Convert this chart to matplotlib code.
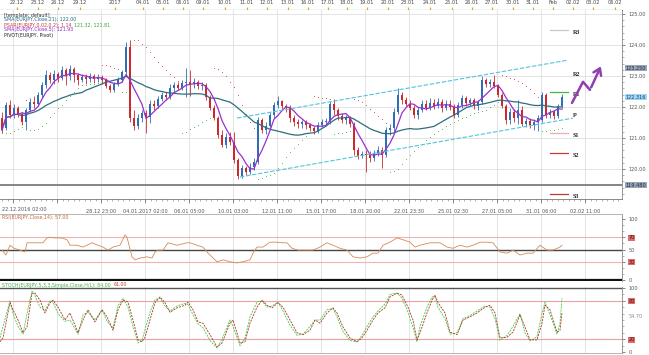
import numpy as np
import pandas as pd
import matplotlib
matplotlib.use('Agg')
import matplotlib.pyplot as plt
from matplotlib.ticker import MultipleLocator
from matplotlib.transforms import blended_transform_factory

# ---------------- data (EURJPY, candle index 0..140) ----------------
opens = [121.64,121.32,122.06,121.74,121.97,121.77,121.51,121.90,122.16,122.10,
         122.39,122.71,123.03,122.87,123.06,122.93,123.19,123.00,123.22,123.03,
         122.87,122.97,122.90,123.00,122.90,122.97,122.87,122.68,122.55,122.74,
         122.87,123.13,123.93,121.64,121.39,121.64,121.81,121.68,122.10,122.03,
         122.26,122.39,122.32,122.61,122.71,122.61,122.77,122.81,122.74,122.81,
         122.68,122.71,122.32,121.97,121.64,121.10,120.77,121.03,120.87,120.29,
         119.77,120.03,119.90,120.06,120.22,121.58,121.26,121.39,121.74,122.06,
         122.19,122.03,121.97,121.64,121.51,121.45,121.51,121.42,121.32,121.22,
         121.42,121.51,121.55,122.10,121.90,121.71,121.58,121.64,121.45,120.61,
         120.42,120.48,120.45,120.35,120.51,120.61,120.45,121.26,121.32,121.84,
         122.39,122.22,122.10,121.97,121.74,121.90,122.10,121.97,122.13,122.03,
         122.16,121.97,122.10,122.00,121.74,122.06,122.29,122.13,122.22,122.03,
         122.16,122.87,122.74,122.81,122.68,122.39,122.03,121.58,121.84,121.64,
         121.90,121.45,121.55,121.42,121.51,121.58,122.39,121.74,121.84,121.71,122.03]
highs = [121.84,122.16,122.22,122.10,122.03,121.84,121.97,122.29,122.35,122.48,
         122.81,123.19,123.13,123.19,123.13,123.32,123.26,123.35,123.29,123.10,
         123.06,123.06,123.10,123.06,123.06,123.03,122.93,122.74,122.81,122.97,
         123.19,124.10,124.16,121.90,121.77,121.90,121.90,122.22,122.22,122.35,
         122.48,122.48,122.74,122.81,122.81,122.87,123.26,123.19,122.93,122.87,
         122.81,122.77,122.39,122.06,121.71,121.26,121.16,121.19,121.19,120.35,
         120.13,120.10,120.19,120.35,121.68,121.64,121.51,121.84,122.16,122.35,
         122.22,122.10,122.06,121.74,121.61,121.58,121.58,121.48,121.39,121.51,
         121.61,121.64,122.19,122.26,121.97,121.81,121.74,121.71,121.51,120.71,
         120.58,120.61,120.58,120.61,120.74,120.71,121.35,121.45,121.97,122.61,
         122.48,122.32,122.22,122.06,122.00,122.22,122.22,122.29,122.26,122.29,
         122.26,122.22,122.22,122.10,122.16,122.39,122.35,122.29,122.29,122.22,
         123.00,122.93,122.90,123.03,122.74,122.45,122.10,121.97,121.93,122.22,
         122.03,121.64,121.64,121.61,121.74,122.48,122.45,121.93,121.90,122.10,122.42]
lows = [121.16,121.26,121.64,121.64,121.68,121.42,121.26,121.84,121.97,122.03,
        122.29,122.61,122.77,122.74,122.81,122.87,122.71,122.87,122.81,122.71,
        122.81,122.74,122.81,122.77,122.81,122.74,122.61,122.48,122.48,122.68,
        122.81,123.03,121.51,121.26,121.29,121.51,121.16,121.48,121.90,121.97,
        122.19,122.22,122.26,122.48,122.55,122.55,122.32,122.35,122.61,122.58,
        122.55,122.22,121.90,121.58,121.00,120.71,120.68,120.77,120.19,119.68,
        119.71,119.81,119.84,119.97,120.16,121.16,121.13,121.32,121.64,121.97,
        121.93,121.84,121.51,121.39,121.32,121.32,121.29,121.22,121.13,121.16,
        121.35,121.42,121.45,121.74,121.58,121.48,121.45,121.35,120.45,120.32,
        120.35,119.90,120.22,120.26,120.42,120.03,120.39,121.10,121.19,121.77,
        122.10,122.03,121.90,121.64,121.61,121.84,121.90,121.90,121.93,121.97,
        121.84,121.90,121.90,121.64,121.68,121.97,122.03,122.03,121.93,121.90,
        122.10,122.64,122.64,122.61,122.32,121.97,121.45,121.45,121.51,121.45,
        121.39,121.35,121.32,121.26,121.22,121.51,121.64,121.64,121.61,121.64,121.97]
closes = [121.26,122.06,121.74,121.97,121.77,121.51,121.90,122.16,122.10,122.39,
          122.71,123.03,122.87,123.06,122.93,123.19,123.00,123.22,123.03,122.87,
          122.97,122.90,123.00,122.90,122.97,122.87,122.68,122.55,122.74,122.87,
          123.13,123.93,121.64,121.39,121.64,121.81,121.68,122.10,122.03,122.26,
          122.39,122.32,122.61,122.71,122.61,122.77,122.81,122.74,122.81,122.68,
          122.71,122.32,121.97,121.64,121.10,120.77,121.03,120.87,120.29,119.77,
          120.03,119.90,120.06,120.22,121.58,121.26,121.39,121.74,122.06,122.19,
          122.03,121.97,121.64,121.51,121.45,121.51,121.42,121.32,121.22,121.42,
          121.51,121.55,122.10,121.90,121.71,121.58,121.64,121.45,120.61,120.42,
          120.48,120.45,120.35,120.51,120.61,120.45,121.26,121.32,121.84,122.39,
          122.22,122.10,121.97,121.74,121.90,122.10,121.97,122.13,122.03,122.16,
          121.97,122.10,122.00,121.74,122.06,122.29,122.13,122.22,122.03,122.16,
          122.87,122.74,122.81,122.68,122.39,122.03,121.58,121.84,121.64,121.90,
          121.45,121.55,121.42,121.51,121.64,122.39,121.74,121.84,121.71,122.03,122.32]

# pivot levels
pivot_names = ['R3', 'R2', 'R1', 'P', 'S1', 'S2', 'S3']
pivot_values = [124.48, 123.13, 122.48, 121.81, 121.16, 120.51, 119.19]
pivot_colors = ['#c8c8c8', None, '#3dbb3d', None, '#eab0b0', '#c43c3c', '#b83a3a']

# trend channel end points (candle index, price)
channel_upper = [(58.75, 121.64), (141.5, 123.51)]
channel_lower = [(59.5, 119.74), (142.75, 121.64)]
hline_level = 119.48
marker_level = 123.25
last_price = 122.316

# RSI (candle index, value)
rsi_t = [0,1,2,3,4.5,5.75,6.25,7.75,10.25,11.25,12,13.25,15,16.25,17,18.75,20.25,22.5,24,25.25,
         26.5,27.75,29.5,30.75,31.25,32.5,33.25,34.5,36.25,37.5,38.25,39,40.25,41.5,43.75,46.25,47,48.75,50.25,51.5,
         53.75,55.25,57,58.75,60.25,62,62.75,63.75,65.25,67,68.75,70,71.25,72.5,74,76.25,77.75,79.5,81.25,82.75,
         84.5,86.25,87.75,89.5,91.25,92.75,94,95.25,97,98.75,100.25,102,103.25,104.5,107,109.5,111.25,112.75,114.5,116.25,
         117.75,119.5,121.25,122.75,124.5,126.25,127.75,129.5,131.25,132.75,134.5,136.25,137.75,139.5,140]
rsi_v = [49,41,57,52,49,46,61,61,61,69,70,69,69,66,57,57,54,61,57,54,
         49,54,57,74,70,38,33,36,38,36,46,49,49,61,57,61,61,57,54,44,
         30,33,30,28,30,33,44,54,54,62,62,61,61,52,49,49,49,54,61,57,
         52,49,38,36,38,44,44,57,62,69,66,62,54,57,61,61,54,52,57,54,
         57,62,62,61,46,44,49,41,44,44,57,49,49,54,57]

# Stochastic (candle index, %K, %D)
st_t = [-0.5,0.25,2,2.75,4,5.25,6.25,7.5,8.25,9.5,10.75,12,12.75,14,15.75,17,19,20.25,21.5,23.25,
        25,26.25,27.75,29,30.25,31.5,32.75,34,35,35.75,37,38.25,39.5,40.75,42,43.75,45.75,46.5,47.75,49,
        50.25,52,53.75,55,57,57.75,59.5,60.75,62,63.75,65,66.25,67.5,69,70.25,72,73.75,75.25,77,78.25,
        79.5,81.25,82.75,83.75,85.25,87,88.75,90,91.25,92.75,94,95.75,97,98.75,100,101.5,102.75,103.75,104.5,106.25,
        107.5,108.25,109,110.75,112,113.75,115.25,117,118.75,120.75,122,123.25,124.5,126.25,127.75,129.5,130.75,132,133.75,135,
        135.75,137,138.75,139.5,140]
st_d = [16,22,77,66,50,30,39,92,92,81,61,77,81,70,50,61,30,50,66,47,
        66,55,34,66,81,78,50,19,16,23,50,77,86,77,62,69,73,78,66,47,
        45,27,8,14,45,50,14,16,45,70,81,73,69,77,70,50,30,27,34,50,
        45,61,69,61,39,22,16,22,34,50,61,69,86,92,89,70,50,19,30,61,
        81,89,77,61,31,27,50,55,61,70,73,61,22,23,31,58,39,19,19,45,
        73,66,31,34,61]
st_k = [22,40,80,60,40,28,60,95,88,70,65,80,78,60,48,50,28,58,62,50,
        66,48,38,72,84,70,40,14,18,35,62,82,84,72,64,72,76,74,58,44,
        38,18,6,20,50,40,10,22,55,78,80,70,72,78,64,42,26,28,40,50,
        50,66,68,55,32,18,16,26,40,55,64,75,90,92,84,62,38,16,40,70,
        86,86,70,52,28,30,52,57,64,72,70,52,18,26,40,60,30,17,24,60,
        78,58,28,45,84]

# time axis labels
bottom_tick_pos = [2.75,13.75,24.75,35.75,46.75,57.75,68.75,79.75,90.75,101.75,112.75,123.75,134.75,145.75]
bottom_labels = ['', '', '28.12 23:00', '04.01.2017 02:00', '06.01 05:00', '10.01 03:00', '12.01 11:00',
                 '15.01 17:00', '18.01 20:00', '22.01 23:30', '25.01 02:30', '27.01 05:00', '31.01 06:00', '02.02 11:00']
first_label = '22.12.2016 02:00'
top_labels = ['22.12','23.12','26.12','29.12','2017','04.01','05.01','06.01','09.01','10.01','11.01','12.01',
              '13.01','16.01','17.01','18.01','19.01','20.01','23.01','24.01','25.01','26.01','27.01','30.01',
              '31.01','Feb','02.02','03.02','06.02']
top_pos = [3.75,9,14,19.5,28.25,35.25,40.25,45.25,50.25,55.75,61.25,66.25,71.5,76.5,81.5,86.25,91.25,96.5,
           101.5,107,112.5,117.5,122.5,127.75,132.75,137.75,142.75,147.75,153.25]

# forecast arrow (annotation path)
arrow_t = [142.5, 145.25, 147.0, 150.0]
arrow_p = [122.13, 122.81, 122.55, 123.39]

# ---------------- derived indicators ----------------
o = np.array(opens); h = np.array(highs); l = np.array(lows); c = np.array(closes)
n = len(c)
idx = np.arange(n)
sma_slow = pd.Series(c).rolling(21, min_periods=1).mean().values
sma_fast = pd.Series(c).rolling(5, min_periods=1).mean().values


def psar(high, low, step=0.02, amax=0.2):
    m = len(high)
    sar = np.zeros(m); trend = np.zeros(m, dtype=bool)
    up = True; af = step; ep = high[0]; sar[0] = low[0]; trend[0] = True
    for i in range(1, m):
        prev = sar[i - 1]
        s = prev + af * (ep - prev)
        if up:
            s = min(s, low[i - 1], low[max(i - 2, 0)])
            if low[i] < s:
                up = False; s = ep; ep = low[i]; af = step
            elif high[i] > ep:
                ep = high[i]; af = min(af + step, amax)
        else:
            s = max(s, high[i - 1], high[max(i - 2, 0)])
            if high[i] > s:
                up = True; s = ep; ep = high[i]; af = step
            elif low[i] < ep:
                ep = low[i]; af = min(af + step, amax)
        sar[i] = s; trend[i] = up
    return sar, trend

sar, sar_up = psar(h, l)

# ---------------- figure ----------------
W, H = 649, 355
fig = plt.figure(figsize=(W / 100, H / 100), dpi=100)
fig.patch.set_facecolor('white')
renderer = fig.canvas.get_renderer()


def ax_px(x0, y0, x1, y1):
    return fig.add_axes([x0 / W, 1 - y1 / H, (x1 - x0) / W, (y1 - y0) / H])

XL = (-0.5, 155.0)
ax_top = ax_px(0, 0, 622, 10)
ax = ax_px(0, 10, 622, 199)
ax_rsi = ax_px(0, 214, 622, 281)
ax_st = ax_px(0, 287, 622, 353)

GRID = '#dedede'
TXT = '#555555'
FS = 3.6
HFS = 3.4


def text_after(prev, s, color, fs=HFS, gap=2):
    """place a text right after a previously drawn figure text"""
    bb = prev.get_window_extent(renderer=renderer)
    x, y = prev.get_position()
    return fig.text((bb.x1 + gap) / W, y, s, fontsize=fs, color=color, va='center', ha='left')

# ---- top time strip ----
ax_top.set_xlim(*XL); ax_top.set_ylim(0, 1)
for s in ['top', 'left', 'right']:
    ax_top.spines[s].set_visible(False)
ax_top.spines['bottom'].set_color('#333333'); ax_top.spines['bottom'].set_linewidth(0.8)
ax_top.set_xticks([]); ax_top.set_yticks([])
for p, t in zip(top_pos, top_labels):
    ax_top.text(p, 0.72, t, ha='center', va='center', fontsize=FS, color='#444444')
ax_top.vlines(top_pos, 0.0, 0.3, color='#e3a23a', lw=0.9)

# ---- main price panel ----
ax.set_xlim(*XL)
ax.set_ylim(119.03, 125.127)
for s in ['top', 'left']:
    ax.spines[s].set_visible(False)
ax.spines['right'].set_color('#888888'); ax.spines['right'].set_linewidth(0.6)
ax.spines['bottom'].set_color('#777777'); ax.spines['bottom'].set_linewidth(0.6)
ax.set_yticks([120, 121, 122, 123, 124, 125])
ax.set_yticklabels(['120.00', '121.00', '122.00', '123.00', '124.00', '125.00'])
ax.yaxis.tick_right()
ax.yaxis.set_minor_locator(MultipleLocator(0.2))
ax.tick_params(axis='y', which='major', length=2.5, pad=2, labelsize=FS, colors=TXT, width=0.5)
ax.tick_params(axis='y', which='minor', length=1.3, width=0.4, colors='#777777')
ax.set_xticks(bottom_tick_pos)
ax.set_xticklabels(bottom_labels)
ax.xaxis.set_minor_locator(MultipleLocator(1.375))
ax.tick_params(axis='x', which='major', length=3, pad=4, labelsize=FS, colors=TXT, width=0.5)
ax.tick_params(axis='x', which='minor', length=1.6, width=0.4, colors='#777777')
ax.text(0.0, -0.04, first_label, transform=blended_transform_factory(ax.transData, ax.transAxes),
        ha='left', va='top', fontsize=FS, color=TXT)
ax.grid(True, which='major', color=GRID, lw=0.6)
ax.set_axisbelow(True)

# candles
UP, DN = '#2f6db5', '#cc2a2a'
colors = np.where(c >= o, UP, DN)
ax.vlines(idx, l, h, colors=colors, lw=0.6, zorder=3)
ax.bar(idx, np.maximum(np.abs(c - o), 0.02), bottom=np.minimum(o, c), width=0.72,
       color=colors, linewidth=0, zorder=4)

# moving averages
ax.plot(idx, sma_slow, color='#2d6e7e', lw=0.9, zorder=5)
ax.plot(idx, sma_fast, color='#9b30d0', lw=0.9, zorder=5)

# parabolic SAR
ax.scatter(idx[~sar_up], sar[~sar_up], s=0.5, color='#e05555', zorder=5, linewidths=0)
ax.scatter(idx[sar_up], sar[sar_up], s=0.5, color='#55c055', zorder=5, linewidths=0)

# channel
for seg in (channel_upper, channel_lower):
    ax.plot([seg[0][0], seg[1][0]], [seg[0][1], seg[1][1]], color='#4fc6de', lw=0.8,
            ls=(0, (4, 1.5)), zorder=6)

# horizontal line
ax.axhline(hline_level, color='#7c7c7c', lw=1.3, zorder=2)

# pivot levels
for name, val, col in zip(pivot_names, pivot_values, pivot_colors):
    if col is not None:
        ax.plot([137.0, 141.5], [val, val], color=col, lw=0.9, zorder=6)
    ax.text(142.6, val, name, ha='left', va='top', fontsize=4.4, color='#222222',
            family='Liberation Serif', fontweight='bold', zorder=7)

# forecast arrow
ax.plot(arrow_t[:-1], arrow_p[:-1], color='#8e3fb0', lw=1.8, solid_capstyle='round', zorder=7)
ax.annotate('', xy=(arrow_t[-1], arrow_p[-1]), xytext=(arrow_t[-2], arrow_p[-2]),
            arrowprops=dict(arrowstyle='->,head_length=0.45,head_width=0.3', color='#8e3fb0', lw=1.8),
            zorder=7)

# right-axis value boxes
tr = blended_transform_factory(ax.transAxes, ax.transData)
ax.text(1.006, last_price, '%.3f' % last_price, transform=tr, ha='left', va='center', fontsize=FS,
        color='#1b3f73', bbox=dict(facecolor='#9fd8f4', edgecolor='none', pad=0.5), clip_on=False, zorder=8)
ax.text(1.006, marker_level, '%.3f' % marker_level, transform=tr, ha='left', va='center', fontsize=FS,
        color='#1e2a3a', bbox=dict(facecolor='#9aa6b8', edgecolor='none', pad=0.5), clip_on=False, zorder=8)
ax.text(1.006, hline_level, '%.3f' % hline_level, transform=tr, ha='left', va='center', fontsize=FS,
        color='#1e2a3a', bbox=dict(facecolor='#9aa6b8', edgecolor='none', pad=0.5), clip_on=False, zorder=8)

# legend header
hdr = [
    ('[template: default]', '#333333'),
    ('SMA(EURJPY,Close,21): %.2f' % sma_slow[-1], '#1f6a8a'),
    ('PSAR(EURJPY,0.02,0.2): 1.14', '#d03535'),
    ('SMA(EURJPY,Close,5): %.2f' % sma_fast[-1], '#8a2bd0'),
    ('PIVOT(EURJPY, Pivot)', '#222222'),
]
hdr_texts = []
for k, (t, col) in enumerate(hdr):
    hdr_texts.append(fig.text(4 / W, 1 - (15 + 5 * k) / H, t, fontsize=HFS, color=col, va='center', ha='left'))
text_after(hdr_texts[2], '%.2f, %.2f' % (sar[-1], pivot_values[3]), '#35a535')

# ---- RSI panel ----
ax_rsi.set_xlim(*XL)
ax_rsi.set_ylim(-1.64, 108.2)
for s in ['left', 'bottom']:
    ax_rsi.spines[s].set_visible(False)
ax_rsi.spines['top'].set_color('#aaaaaa'); ax_rsi.spines['top'].set_linewidth(0.6)
ax_rsi.spines['right'].set_color('#888888'); ax_rsi.spines['right'].set_linewidth(0.6)
ax_rsi.set_xticks(bottom_tick_pos); ax_rsi.set_xticklabels([])
ax_rsi.tick_params(axis='x', length=0)
ax_rsi.grid(True, axis='x', color=GRID, lw=0.6)
ax_rsi.axhline(70, color='#f0b4b4', lw=0.8)
ax_rsi.axhline(30, color='#f0b4b4', lw=0.8)
ax_rsi.axhline(50, color='#454545', lw=1.0)
ax_rsi.axhline(0, color='#111111', lw=1.6)
ax_rsi.plot(rsi_t, rsi_v, color='#d58a58', lw=0.6)
ax_rsi.yaxis.tick_right()
ax_rsi.set_yticks([0, 30, 50, 70, 100])
ax_rsi.set_yticklabels(['0', '30', '50', '70', '100'])
ax_rsi.yaxis.set_minor_locator(MultipleLocator(10))
ax_rsi.tick_params(axis='y', which='major', length=2.5, pad=2, labelsize=FS, colors=TXT, width=0.5)
ax_rsi.tick_params(axis='y', which='minor', length=1.3, width=0.4, colors='#777777')
for lab in ax_rsi.get_yticklabels():
    if lab.get_text() in ('30', '70'):
        lab.set_bbox(dict(facecolor='#e36b6b', edgecolor='none', pad=0.4))
        lab.set_color('#3a1010')
fig.text(2 / W, 1 - 218 / H, 'RSI(EURJPY,Close,14): %.2f' % rsi_v[-1],
         fontsize=HFS, color='#c0683a', va='center', ha='left')

# ---- Stochastic panel ----
ax_st.set_xlim(*XL)
ax_st.set_ylim(-1.56, 101.56)
ax_st.spines['left'].set_visible(False)
ax_st.spines['top'].set_visible(False)
ax_st.spines['bottom'].set_color('#aaaaaa'); ax_st.spines['bottom'].set_linewidth(0.6)
ax_st.spines['right'].set_color('#888888'); ax_st.spines['right'].set_linewidth(0.6)
ax_st.set_xticks(bottom_tick_pos); ax_st.set_xticklabels([])
ax_st.tick_params(axis='x', length=0)
ax_st.grid(True, axis='x', color=GRID, lw=0.6)
ax_st.axhline(100, color='#555555', lw=1.0)
ax_st.axhline(80, color='#eea0a0', lw=0.8)
ax_st.axhline(20, color='#eea0a0', lw=0.8)
ax_st.plot(st_t, st_k, color='#4dc84d', lw=0.6, ls=(0, (2.5, 1.2)))
ax_st.plot(st_t, st_d, color='#a83a22', lw=0.6, ls=(0, (2.5, 1.2)))
ax_st.yaxis.tick_right()
ax_st.set_yticks([0, 20, 80, 100])
ax_st.set_yticklabels(['0', '20', '80', '100'])
ax_st.yaxis.set_minor_locator(MultipleLocator(10))
ax_st.tick_params(axis='y', which='major', length=2.5, pad=2, labelsize=FS, colors=TXT, width=0.5)
ax_st.tick_params(axis='y', which='minor', length=1.3, width=0.4, colors='#777777')
for lab in ax_st.get_yticklabels():
    if lab.get_text() in ('20', '80'):
        lab.set_bbox(dict(facecolor='#e36b6b', edgecolor='none', pad=0.4))
        lab.set_color('#3a1010')
trs = blended_transform_factory(ax_st.transAxes, ax_st.transData)
ax_st.text(1.01, 54.7, '54.70', transform=trs, fontsize=FS, color='#888888', va='center', ha='left')
st_hdr = fig.text(2 / W, 1 - 285 / H, 'STOCH(EURJPY,5,3,3,Simple,Close,H/L): %.2f' % st_k[-1],
                  fontsize=HFS, color='#3fb43f', va='center', ha='left')
text_after(st_hdr, '%.2f' % st_d[-1], '#c23a2a', gap=3)

fig.savefig('out.png', dpi=100, facecolor='white')
